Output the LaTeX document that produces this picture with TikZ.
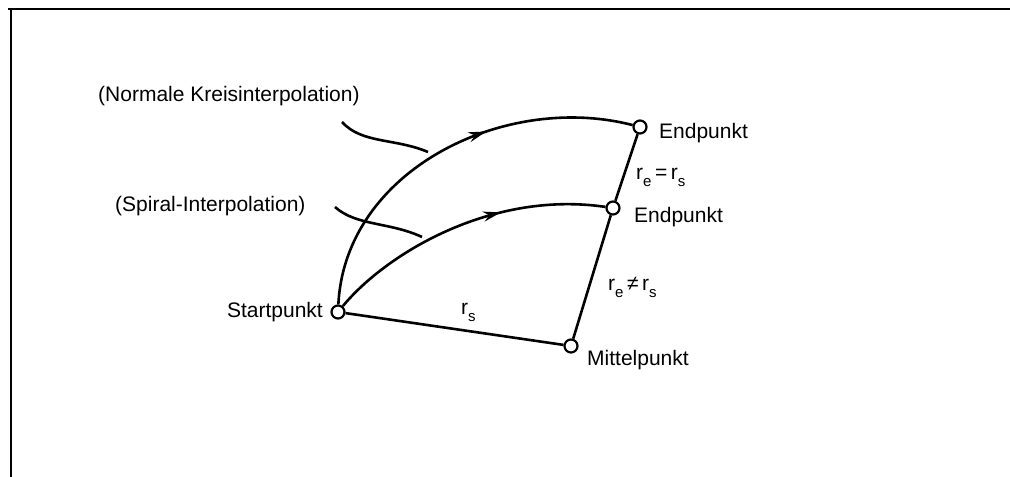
\documentclass[tikz,border=0pt]{standalone}
\usepackage{fontspec}
\setmainfont{Liberation Sans}
\usetikzlibrary{decorations.markings,arrows.meta}
\newcommand{\mysub}[1]{\raisebox{-0.32em}{\fontsize{15bp}{16bp}\selectfont #1}}
\begin{document}
\begin{tikzpicture}[x=1bp,y=-1bp,
  pt/.style={circle,draw,line width=2.2bp,minimum size=13bp,inner sep=0pt,fill=white},
  lbl/.style={anchor=base west,inner sep=0pt,font=\fontsize{21bp}{24bp}\selectfont},
  lble/.style={lbl,anchor=base east},
  edge/.style={line width=2.6bp},
  arcarrow/.style={line width=2.6bp,postaction={decorate},
    decoration={markings,mark=at position #1 with {\arrow{Stealth[length=18bp,width=10bp]}}}},
  ptr/.style={line width=2.6bp},
  frame/.style={line width=2.8bp}]
\useasboundingbox (0,0) rectangle (1010,477);
% frame
\coordinate (f1) at (8,9);
\coordinate (f2) at (1010,9);
\coordinate (f3) at (11,477);
\draw[frame] (f1) -- (f2);
\draw[frame] (11,8) -- (f3);
% points
\node[pt] (S) at (338,312) {};
\node[pt] (M) at (571,346) {};
\node[pt] (E1) at (640,127) {};
\node[pt] (E2) at (613,208) {};
% labels
\node[lble] (ls) at (323,318) {Startpunkt};
\node[lbl] (lm) at (587,366) {Mittelpunkt};
\node[lbl] (le1) at (659,139) {Endpunkt};
\node[lbl] (le2) at (634,223) {Endpunkt};
\node[lbl] (lrs) at (461,315) {r\mysub{s}};
\node[lbl] (leq) at (636,180) {r\mysub{e}\,=\,r\mysub{s}};
\node[lbl] (lne) at (608,291) {r\mysub{e}\,≠\,r\mysub{s}};
\node[lbl] (ln) at (98,102) {(Normale Kreisinterpolation)};
\node[lbl] (lsp) at (115,212) {(Spiral-Interpolation)};
% straight connectors
\draw[edge] (S) -- (M);
\draw[edge] (M) -- (E2);
\draw[edge] (E2) -- (E1);
% arcs
\draw[arcarrow=0.62] (S) .. controls (345,170) and (505,92) .. (E1);
\draw[arcarrow=0.64] (S) .. controls (385,255) and (490,190) .. (E2);
% pointer curves
\coordinate (p1a) at (342,122);
\coordinate (p1b) at (428,152);
\coordinate (p2a) at (335,207);
\coordinate (p2b) at (422,237);
\draw[ptr] (p1a) .. controls (362,144) and (395,138) .. (p1b);
\draw[ptr] (p2a) .. controls (356,226) and (390,222) .. (p2b);
\end{tikzpicture}
\end{document}
